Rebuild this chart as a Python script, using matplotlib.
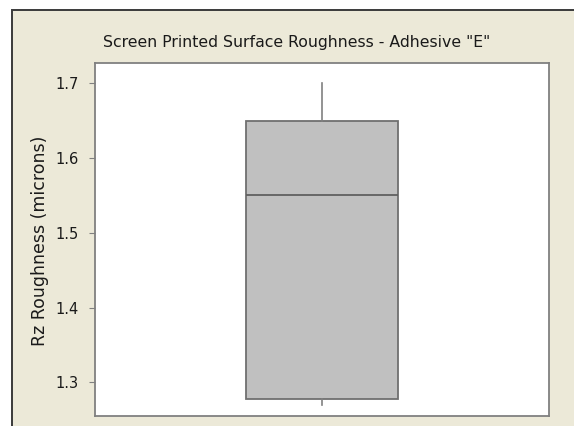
import matplotlib.pyplot as plt
from matplotlib.patches import Rectangle

# box summary
group = ['Adhesive E']
q1 = [1.278]
median = [1.55]
q3 = [1.65]
whisker_lo = [1.27]
whisker_hi = [1.70]

yticks = [1.3, 1.4, 1.5, 1.6, 1.7]

W, H = 574, 426
fig = plt.figure(figsize=(W / 100, H / 100), dpi=100)
fig.patch.set_facecolor('white')

# minitab-style window background, cropped at right and bottom
fig.patches.append(Rectangle((12 / W, -0.1), 1.2, (H - 9.5) / H + 0.1,
                             transform=fig.transFigure, facecolor='#ECE9D8',
                             edgecolor='#3a3a3a', lw=1.4, zorder=-5))

ax = fig.add_axes([95 / W, 1 - 416 / H, (549 - 95) / W, (416 - 63) / H])
ax.set_facecolor('white')

stats = [dict(label=g, med=m, q1=a, q3=b, whislo=lo, whishi=hi, fliers=[])
         for g, m, a, b, lo, hi in zip(group, median, q1, q3, whisker_lo, whisker_hi)]
ax.bxp(stats, positions=[1], widths=0.335, showcaps=False, patch_artist=True,
       boxprops=dict(facecolor='#C0C0C0', edgecolor='#707070', lw=1.3),
       medianprops=dict(color='#606060', lw=1.3),
       whiskerprops=dict(color='#808080', lw=1.2))

ax.set_xlim(0.5, 1.5)
ax.set_ylim(1.255, 1.727)
ax.set_xticks([])
ax.set_yticks(yticks)
ax.set_yticklabels([f'{t:.1f}' for t in yticks])
ax.tick_params(axis='y', length=4, width=0.8, color='#808080', labelsize=10.5,
               labelcolor='#1a1a1a', pad=8)
for s in ax.spines.values():
    s.set_color('#808080')
    s.set_linewidth(1.3)

ax.set_ylabel('Rz Roughness (microns)', fontsize=12.5, color='#1a1a1a', va='center')
ax.yaxis.set_label_coords((40 - 95) / 454, (416 - 241) / 353)
fig.text(297 / W, 1 - 43 / H, 'Screen Printed Surface Roughness - Adhesive "E"',
         ha='center', va='center', fontsize=11.3, color='#1a1a1a')

fig.savefig('out.png', dpi=100)
